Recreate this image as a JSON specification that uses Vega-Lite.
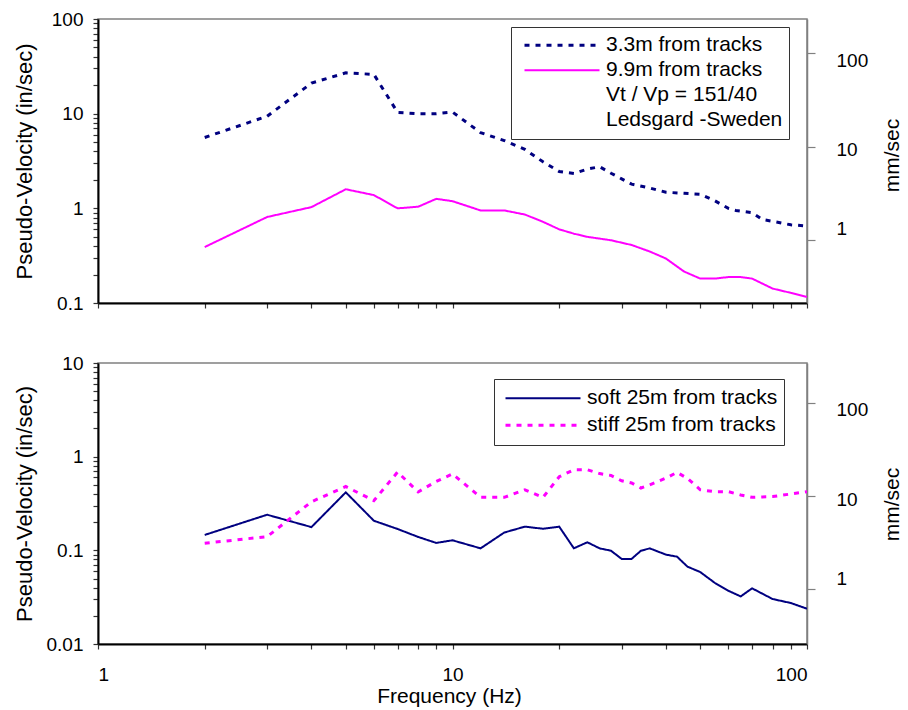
{
  "$schema": "https://vega.github.io/schema/vega-lite/v6.json",
  "background": "white",
  "padding": {"left": 12, "top": 9, "right": 0, "bottom": 0},
  "bounds": "flush",
  "spacing": 60,
  "config": {
    "font": "Liberation Sans",
    "view": {"stroke": "#808080", "strokeWidth": 1.5},
    "axis": {
      "domainColor": "black", "domainWidth": 2, "tickColor": "#333333", "tickWidth": 1.2,
      "labelFont": "Liberation Sans", "titleFont": "Liberation Sans",
      "labelFontSize": 19, "titleFontSize": 21, "titleFontWeight": "normal",
      "labelColor": "black", "titleColor": "black", "grid": false
    },
    "legend": {
      "labelFont": "Liberation Sans", "labelFontSize": 21, "labelColor": "black",
      "strokeColor": "#333333", "fillColor": "white", "symbolType": "stroke",
      "symbolSize": 5625, "labelOffset": 5, "labelLimit": 0, "rowPadding": 0
    }
  },
  "datasets": {
    "top": [
      {"f": 2, "v": 5.6, "s": "3.3m from tracks"},
      {"f": 3, "v": 9.4, "s": "3.3m from tracks"},
      {"f": 4, "v": 21, "s": "3.3m from tracks"},
      {"f": 5, "v": 27, "s": "3.3m from tracks"},
      {"f": 6, "v": 26, "s": "3.3m from tracks"},
      {"f": 7, "v": 10.3, "s": "3.3m from tracks"},
      {"f": 8, "v": 10, "s": "3.3m from tracks"},
      {"f": 9, "v": 10, "s": "3.3m from tracks"},
      {"f": 10, "v": 10.4, "s": "3.3m from tracks"},
      {"f": 12, "v": 6.3, "s": "3.3m from tracks"},
      {"f": 14, "v": 5.2, "s": "3.3m from tracks"},
      {"f": 16, "v": 4.2, "s": "3.3m from tracks"},
      {"f": 18, "v": 3.1, "s": "3.3m from tracks"},
      {"f": 20, "v": 2.45, "s": "3.3m from tracks"},
      {"f": 22, "v": 2.33, "s": "3.3m from tracks"},
      {"f": 24, "v": 2.6, "s": "3.3m from tracks"},
      {"f": 26, "v": 2.75, "s": "3.3m from tracks"},
      {"f": 28, "v": 2.35, "s": "3.3m from tracks"},
      {"f": 30, "v": 2.05, "s": "3.3m from tracks"},
      {"f": 32, "v": 1.8, "s": "3.3m from tracks"},
      {"f": 36, "v": 1.64, "s": "3.3m from tracks"},
      {"f": 40, "v": 1.48, "s": "3.3m from tracks"},
      {"f": 45, "v": 1.44, "s": "3.3m from tracks"},
      {"f": 50, "v": 1.41, "s": "3.3m from tracks"},
      {"f": 55, "v": 1.2, "s": "3.3m from tracks"},
      {"f": 60, "v": 1.0, "s": "3.3m from tracks"},
      {"f": 63, "v": 0.95, "s": "3.3m from tracks"},
      {"f": 70, "v": 0.9, "s": "3.3m from tracks"},
      {"f": 75, "v": 0.76, "s": "3.3m from tracks"},
      {"f": 80, "v": 0.73, "s": "3.3m from tracks"},
      {"f": 90, "v": 0.67, "s": "3.3m from tracks"},
      {"f": 100, "v": 0.65, "s": "3.3m from tracks"},
      {"f": 2, "v": 0.39, "s": "9.9m from tracks"},
      {"f": 3, "v": 0.81, "s": "9.9m from tracks"},
      {"f": 4, "v": 1.03, "s": "9.9m from tracks"},
      {"f": 5, "v": 1.59, "s": "9.9m from tracks"},
      {"f": 6, "v": 1.38, "s": "9.9m from tracks"},
      {"f": 7, "v": 1.0, "s": "9.9m from tracks"},
      {"f": 8, "v": 1.04, "s": "9.9m from tracks"},
      {"f": 9, "v": 1.26, "s": "9.9m from tracks"},
      {"f": 10, "v": 1.19, "s": "9.9m from tracks"},
      {"f": 12, "v": 0.95, "s": "9.9m from tracks"},
      {"f": 14, "v": 0.95, "s": "9.9m from tracks"},
      {"f": 16, "v": 0.86, "s": "9.9m from tracks"},
      {"f": 18, "v": 0.72, "s": "9.9m from tracks"},
      {"f": 20, "v": 0.6, "s": "9.9m from tracks"},
      {"f": 22, "v": 0.54, "s": "9.9m from tracks"},
      {"f": 24, "v": 0.5, "s": "9.9m from tracks"},
      {"f": 28, "v": 0.46, "s": "9.9m from tracks"},
      {"f": 32, "v": 0.41, "s": "9.9m from tracks"},
      {"f": 36, "v": 0.35, "s": "9.9m from tracks"},
      {"f": 40, "v": 0.295, "s": "9.9m from tracks"},
      {"f": 45, "v": 0.215, "s": "9.9m from tracks"},
      {"f": 50, "v": 0.181, "s": "9.9m from tracks"},
      {"f": 55, "v": 0.181, "s": "9.9m from tracks"},
      {"f": 60, "v": 0.188, "s": "9.9m from tracks"},
      {"f": 65, "v": 0.188, "s": "9.9m from tracks"},
      {"f": 70, "v": 0.181, "s": "9.9m from tracks"},
      {"f": 80, "v": 0.142, "s": "9.9m from tracks"},
      {"f": 90, "v": 0.128, "s": "9.9m from tracks"},
      {"f": 100, "v": 0.116, "s": "9.9m from tracks"}
    ],
    "bottom": [
      {"f": 2, "v": 0.146, "s": "soft 25m from tracks"},
      {"f": 3, "v": 0.24, "s": "soft 25m from tracks"},
      {"f": 4, "v": 0.177, "s": "soft 25m from tracks"},
      {"f": 5, "v": 0.416, "s": "soft 25m from tracks"},
      {"f": 6, "v": 0.207, "s": "soft 25m from tracks"},
      {"f": 7, "v": 0.169, "s": "soft 25m from tracks"},
      {"f": 8, "v": 0.139, "s": "soft 25m from tracks"},
      {"f": 9, "v": 0.12, "s": "soft 25m from tracks"},
      {"f": 10, "v": 0.128, "s": "soft 25m from tracks"},
      {"f": 12, "v": 0.105, "s": "soft 25m from tracks"},
      {"f": 14, "v": 0.155, "s": "soft 25m from tracks"},
      {"f": 16, "v": 0.179, "s": "soft 25m from tracks"},
      {"f": 18, "v": 0.17, "s": "soft 25m from tracks"},
      {"f": 20, "v": 0.179, "s": "soft 25m from tracks"},
      {"f": 22, "v": 0.105, "s": "soft 25m from tracks"},
      {"f": 24, "v": 0.122, "s": "soft 25m from tracks"},
      {"f": 26, "v": 0.105, "s": "soft 25m from tracks"},
      {"f": 28, "v": 0.099, "s": "soft 25m from tracks"},
      {"f": 30, "v": 0.081, "s": "soft 25m from tracks"},
      {"f": 32, "v": 0.081, "s": "soft 25m from tracks"},
      {"f": 34, "v": 0.099, "s": "soft 25m from tracks"},
      {"f": 36, "v": 0.105, "s": "soft 25m from tracks"},
      {"f": 40, "v": 0.09, "s": "soft 25m from tracks"},
      {"f": 43, "v": 0.0855, "s": "soft 25m from tracks"},
      {"f": 46, "v": 0.067, "s": "soft 25m from tracks"},
      {"f": 50, "v": 0.0586, "s": "soft 25m from tracks"},
      {"f": 55, "v": 0.0448, "s": "soft 25m from tracks"},
      {"f": 60, "v": 0.037, "s": "soft 25m from tracks"},
      {"f": 65, "v": 0.0322, "s": "soft 25m from tracks"},
      {"f": 70, "v": 0.0393, "s": "soft 25m from tracks"},
      {"f": 80, "v": 0.0302, "s": "soft 25m from tracks"},
      {"f": 90, "v": 0.0274, "s": "soft 25m from tracks"},
      {"f": 100, "v": 0.0238, "s": "soft 25m from tracks"},
      {"f": 2, "v": 0.119, "s": "stiff 25m from tracks"},
      {"f": 3, "v": 0.14, "s": "stiff 25m from tracks"},
      {"f": 4, "v": 0.33, "s": "stiff 25m from tracks"},
      {"f": 5, "v": 0.48, "s": "stiff 25m from tracks"},
      {"f": 6, "v": 0.339, "s": "stiff 25m from tracks"},
      {"f": 7, "v": 0.685, "s": "stiff 25m from tracks"},
      {"f": 8, "v": 0.42, "s": "stiff 25m from tracks"},
      {"f": 9, "v": 0.545, "s": "stiff 25m from tracks"},
      {"f": 10, "v": 0.654, "s": "stiff 25m from tracks"},
      {"f": 12, "v": 0.368, "s": "stiff 25m from tracks"},
      {"f": 14, "v": 0.368, "s": "stiff 25m from tracks"},
      {"f": 16, "v": 0.443, "s": "stiff 25m from tracks"},
      {"f": 18, "v": 0.368, "s": "stiff 25m from tracks"},
      {"f": 20, "v": 0.61, "s": "stiff 25m from tracks"},
      {"f": 22, "v": 0.726, "s": "stiff 25m from tracks"},
      {"f": 24, "v": 0.726, "s": "stiff 25m from tracks"},
      {"f": 26, "v": 0.66, "s": "stiff 25m from tracks"},
      {"f": 28, "v": 0.63, "s": "stiff 25m from tracks"},
      {"f": 30, "v": 0.553, "s": "stiff 25m from tracks"},
      {"f": 32, "v": 0.524, "s": "stiff 25m from tracks"},
      {"f": 34, "v": 0.463, "s": "stiff 25m from tracks"},
      {"f": 36, "v": 0.5, "s": "stiff 25m from tracks"},
      {"f": 40, "v": 0.59, "s": "stiff 25m from tracks"},
      {"f": 43, "v": 0.68, "s": "stiff 25m from tracks"},
      {"f": 46, "v": 0.586, "s": "stiff 25m from tracks"},
      {"f": 50, "v": 0.443, "s": "stiff 25m from tracks"},
      {"f": 55, "v": 0.423, "s": "stiff 25m from tracks"},
      {"f": 60, "v": 0.423, "s": "stiff 25m from tracks"},
      {"f": 65, "v": 0.39, "s": "stiff 25m from tracks"},
      {"f": 70, "v": 0.368, "s": "stiff 25m from tracks"},
      {"f": 80, "v": 0.375, "s": "stiff 25m from tracks"},
      {"f": 100, "v": 0.423, "s": "stiff 25m from tracks"}
    ]
  },
  "vconcat": [
    {
      "width": 709, "height": 284,
      "data": {"name": "top"},
      "layer": [
        {
          "mark": {"type": "line", "clip": true},
          "encoding": {
            "x": {"field": "f", "type": "quantitative",
              "scale": {"type": "log", "domain": [1, 100], "nice": false},
              "axis": {"title": null, "labels": false, "tickSize": 5,
                "values": [1,2,3,4,5,6,7,8,9,10,20,30,40,50,60,70,80,90,100]}},
            "y": {"field": "v", "type": "quantitative",
              "scale": {"type": "log", "domain": [0.1, 100], "nice": false},
              "axis": {"title": "Pseudo-Velocity (in/sec)", "tickSize": 5, "labelPadding": 10,
                "titleX": -74, "titleBaseline": "middle", "titleAngle": 270, "titleFontSize": 22,
                "values": [0.1,0.2,0.3,0.4,0.5,0.6,0.7,0.8,0.9,1,2,3,4,5,6,7,8,9,10,20,30,40,50,60,70,80,90,100],
                "labelExpr": "indexof([0.01,0.1,1,10,100], datum.value) >= 0 ? format(datum.value, '~g') : ''"}},
            "color": {"field": "s", "type": "nominal",
              "scale": {"domain": ["3.3m from tracks", "9.9m from tracks", "Vt / Vp = 151/40", "Ledsgard -Sweden"],
                "range": ["#000080", "#ff00ff", "transparent", "transparent"]},
              "legend": {"title": null, "orient": "none", "legendX": 413, "legendY": 8,
                "clipHeight": 24.6, "padding": 6, "symbolOffset": 6, "labelOffset": 5}},
            "strokeDash": {"field": "s", "type": "nominal",
              "scale": {"domain": ["3.3m from tracks", "9.9m from tracks", "Vt / Vp = 151/40", "Ledsgard -Sweden"],
                "range": [[5, 6], [1, 0], [1, 0], [1, 0]]},
              "legend": {"title": null, "orient": "none", "legendX": 413, "legendY": 8,
                "clipHeight": 24.6, "padding": 6, "symbolOffset": 6, "labelOffset": 5}},
            "strokeWidth": {"field": "s", "type": "nominal",
              "scale": {"type": "ordinal", "domain": ["3.3m from tracks", "9.9m from tracks", "Vt / Vp = 151/40", "Ledsgard -Sweden"],
                "range": [3, 2, 2, 2]},
              "legend": {"title": null, "orient": "none", "legendX": 413, "legendY": 8,
                "clipHeight": 24.6, "padding": 6, "symbolOffset": 6, "labelOffset": 5}}
          }
        },
        {
          "mark": {"type": "line", "strokeOpacity": 0, "clip": true},
          "encoding": {
            "x": {"field": "f", "type": "quantitative", "scale": {"type": "log", "domain": [1, 100], "nice": false}},
            "y": {"field": "v", "type": "quantitative",
              "scale": {"type": "log", "domain": [0.213, 232.8], "nice": false, "zero": false},
              "axis": {"orient": "right", "title": "mm/sec", "values": [1, 10, 100],
                "format": "~g", "tickSize": 8, "labelPadding": 21,
                "domainColor": "#808080", "domainWidth": 1.5, "tickColor": "#808080",
                "titleX": 85, "titleY": 136, "titleAngle": 270, "titleBaseline": "middle",
                "labelOffset": {"condition": [{"test": "datum.value >= 100", "value": 7}, {"test": "datum.value >= 10", "value": 3}], "value": -12}}}
          }
        }
      ],
      "resolve": {"scale": {"y": "independent"}, "axis": {"y": "independent"}}
    },
    {
      "width": 709, "height": 281,
      "data": {"name": "bottom"},
      "layer": [
        {
          "mark": {"type": "line", "clip": true},
          "encoding": {
            "x": {"field": "f", "type": "quantitative",
              "scale": {"type": "log", "domain": [1, 100], "nice": false},
              "axis": {"title": "Frequency (Hz)", "tickSize": 5, "labelPadding": 25, "labelBaseline": "middle",
                "titleX": 351, "titleY": 52, "titleBaseline": "middle",
                "values": [1,2,3,4,5,6,7,8,9,10,20,30,40,50,60,70,80,90,100],
                "labelExpr": "indexof([1,10,100], datum.value) >= 0 ? format(datum.value, '~g') : ''"}},
            "y": {"field": "v", "type": "quantitative",
              "scale": {"type": "log", "domain": [0.01, 10], "nice": false},
              "axis": {"title": "Pseudo-Velocity (in/sec)", "tickSize": 5, "labelPadding": 10,
                "titleX": -74, "titleBaseline": "middle", "titleAngle": 270, "titleFontSize": 22,
                "values": [0.01,0.02,0.03,0.04,0.05,0.06,0.07,0.08,0.09,0.1,0.2,0.3,0.4,0.5,0.6,0.7,0.8,0.9,1,2,3,4,5,6,7,8,9,10],
                "labelExpr": "indexof([0.01,0.1,1,10,100], datum.value) >= 0 ? format(datum.value, '~g') : ''"}},
            "color": {"field": "s", "type": "nominal",
              "scale": {"domain": ["soft 25m from tracks", "stiff 25m from tracks"], "range": ["#000080", "#ff00ff"]},
              "legend": {"title": null, "orient": "none", "legendX": 396, "legendY": 16,
                "clipHeight": 26.7, "padding": 6, "symbolOffset": 4, "labelOffset": 5}},
            "strokeDash": {"field": "s", "type": "nominal",
              "scale": {"domain": ["soft 25m from tracks", "stiff 25m from tracks"], "range": [[1, 0], [5, 6]]},
              "legend": {"title": null, "orient": "none", "legendX": 396, "legendY": 16,
                "clipHeight": 26.7, "padding": 6, "symbolOffset": 4, "labelOffset": 5}},
            "strokeWidth": {"field": "s", "type": "nominal",
              "scale": {"type": "ordinal", "domain": ["soft 25m from tracks", "stiff 25m from tracks"], "range": [2, 3]},
              "legend": {"title": null, "orient": "none", "legendX": 396, "legendY": 16,
                "clipHeight": 26.7, "padding": 6, "symbolOffset": 4, "labelOffset": 5}}
          }
        },
        {
          "mark": {"type": "line", "strokeOpacity": 0, "clip": true},
          "encoding": {
            "x": {"field": "f", "type": "quantitative", "scale": {"type": "log", "domain": [1, 100], "nice": false}},
            "y": {"field": "v", "type": "quantitative",
              "scale": {"type": "log", "domain": [0.256, 269], "nice": false, "zero": false},
              "axis": {"orient": "right", "title": "mm/sec", "values": [1, 10, 100],
                "format": "~g", "tickSize": 8, "labelPadding": 21,
                "domainColor": "#808080", "domainWidth": 1.5, "tickColor": "#808080",
                "titleX": 85, "titleY": 141, "titleAngle": 270, "titleBaseline": "middle",
                "labelOffset": {"condition": [{"test": "datum.value >= 100", "value": 7}, {"test": "datum.value >= 10", "value": 4}], "value": -10}}}
          }
        }
      ],
      "resolve": {"scale": {"y": "independent"}, "axis": {"y": "independent"}}
    }
  ],
  "resolve": {"scale": {"x": "independent", "color": "independent", "strokeDash": "independent", "strokeWidth": "independent"}}
}
